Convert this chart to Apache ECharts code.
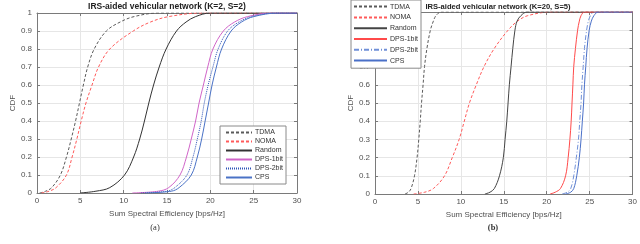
<!DOCTYPE html>
<html><head><meta charset="utf-8">
<script src="https://cdn.jsdelivr.net/npm/echarts@6/dist/echarts.min.js"></script>
<style>html,body{margin:0;padding:0;background:#fff}#c{width:640px;height:244px}</style>
</head><body><div id="c"></div>
<script>
// ---- data ----
const cdfLevels = [0, 0.01, 0.03, 0.1, 0.2, 0.3, 0.4, 0.5, 0.6, 0.7, 0.8, 0.9, 0.95, 0.98, 1];
const seriesNames = ['TDMA', 'NOMA', 'Random', 'DPS-1bit', 'DPS-2bit', 'CPS'];
const xTicks = [0, 5, 10, 15, 20, 25, 30];
const yTicks = [0, 0.1, 0.2, 0.3, 0.4, 0.5, 0.6, 0.7, 0.8, 0.9, 1];
const titleA = 'IRS-aided vehicular network (K=2, S=2)';
const titleB = 'IRS-aided vehicular network (K=20, S=5)';
const xName = 'Sum Spectral Efficiency [bps/Hz]';
const yName = 'CDF';

// chart (a): x value (bps/Hz) at each CDF level
const aTDMA    = [0.3, 1.0, 1.7, 2.7, 3.4, 3.95, 4.45, 4.9, 5.35, 5.85, 6.6, 8.0, 9.6, 11.2, 14.0];
const aNOMA    = [0.5, 1.4, 2.2, 3.4, 4.05, 4.6, 5.1, 5.65, 6.35, 7.1, 8.4, 11.1, 13.1, 15.2, 19.0];
const aRandom  = [5.0, 6.8, 8.4, 10.1, 11.15, 11.85, 12.4, 12.9, 13.45, 14.1, 14.9, 16.1, 17.2, 18.3, 20.0];
const aDPS1    = [11.0, 14.0, 15.2, 16.5, 17.25, 17.8, 18.3, 18.7, 19.2, 19.7, 20.3, 21.5, 22.8, 24.3, 27.0];
const aDPS2    = [12.0, 15.0, 15.9, 17.3, 18.0, 18.5, 18.95, 19.3, 19.75, 20.3, 20.9, 22.0, 23.3, 24.8, 27.5];
const aCPS     = [12.5, 15.5, 16.4, 17.8, 18.5, 19.0, 19.4, 19.8, 20.2, 20.7, 21.3, 22.4, 23.6, 25.0, 27.8];

// chart (b)
const bTDMA    = [3.5, 3.9, 4.2, 4.6, 4.9, 5.1, 5.27, 5.42, 5.6, 5.77, 6.05, 6.45, 6.8, 7.1, 7.7];
const bNOMA    = [4.5, 5.8, 6.8, 8.1, 9.0, 9.8, 10.4, 11.0, 11.8, 12.7, 13.9, 15.5, 16.6, 17.8, 20.5];
const bRandom  = [12.8, 13.4, 13.9, 14.5, 14.95, 15.15, 15.35, 15.5, 15.65, 15.85, 16.05, 16.3, 16.55, 17.0, 17.7];
const bDPS1    = [20.4, 21.0, 21.6, 22.2, 22.5, 22.7, 22.85, 22.95, 23.05, 23.15, 23.35, 23.6, 23.8, 24.0, 24.4];
const bDPS2    = [21.8, 22.4, 22.8, 23.15, 23.45, 23.7, 23.85, 24.0, 24.1, 24.25, 24.4, 24.65, 24.85, 25.1, 25.5];
const bCPS     = [22.2, 22.8, 23.15, 23.5, 23.8, 24.0, 24.15, 24.3, 24.4, 24.55, 24.7, 24.95, 25.2, 25.5, 26.0];

// ---- styles ----
const FONT = 'Liberation Sans, Arial, Helvetica, sans-serif';
const frame = '#7a7a7a';
const txt = '#505050';
const stylesA = [
  {color: '#5a5a5a', type: [3, 2]},
  {color: '#ff5a5a', type: [3, 2]},
  {color: '#333333', type: 'solid'},
  {color: '#d065c8', type: 'solid'},
  {color: '#2f55b8', type: [1, 1]},
  {color: '#4a72c6', type: 'solid'}
];
const stylesB = [
  {color: '#5a5a5a', type: [3, 2]},
  {color: '#ff5a5a', type: [3, 2]},
  {color: '#444444', type: 'solid'},
  {color: '#ff4a4a', type: 'solid'},
  {color: '#7090d8', type: [5, 2, 1, 2]},
  {color: '#4a70c8', type: 'solid'}
];

function pairs(xs) {
  const d = xs.map((x, i) => [x, cdfLevels[i]]);
  d.push([xTicks[xTicks.length - 1], 1]);
  return d;
}

const grids = [
  {left: 37, right: 343, top: 13, bottom: 51},
  {left: 375, right: 5, top: 12, bottom: 50}
];
const xAxes = [], yAxes = [];
const xMin = xTicks[0], xMax = xTicks[xTicks.length - 1], xInt = xTicks[1] - xTicks[0];
const yMin = yTicks[0], yMax = yTicks[yTicks.length - 1], yInt = 0.1;
grids.forEach((g, gi) => {
  xAxes.push({
    gridIndex: gi, type: 'value', position: 'bottom', min: xMin, max: xMax, interval: xInt,
    axisLine: {show: true, onZero: false, lineStyle: {color: frame, width: 1}},
    axisTick: {show: true, inside: true, length: 3, lineStyle: {color: frame}},
    axisLabel: {fontSize: 8, color: txt, margin: 4, fontFamily: FONT},
    splitLine: {show: true, lineStyle: {color: '#e6e6e6', width: 1}},
    name: xName, nameLocation: 'middle', nameGap: 15,
    nameTextStyle: {fontSize: 8, color: txt, fontFamily: FONT}
  });
  xAxes.push({
    gridIndex: gi, type: 'value', position: 'top', min: xMin, max: xMax, interval: xInt,
    axisLine: {show: true, onZero: false, lineStyle: {color: frame, width: 1}},
    axisTick: {show: true, inside: true, length: 3, lineStyle: {color: frame}},
    axisLabel: {show: false}, splitLine: {show: false}
  });
  yAxes.push({
    gridIndex: gi, type: 'value', position: 'left', min: yMin, max: yMax, interval: yInt,
    axisLine: {show: true, onZero: false, lineStyle: {color: frame, width: 1}},
    axisTick: {show: true, inside: true, length: 3, lineStyle: {color: frame}},
    axisLabel: {fontSize: 8, color: txt, margin: 5, fontFamily: FONT,
      formatter: v => String(+v.toFixed(1))},
    splitLine: {show: true, lineStyle: {color: '#e6e6e6', width: 1}},
    name: yName, nameLocation: 'middle', nameGap: 18, nameRotate: 90,
    nameTextStyle: {fontSize: 8, color: txt, fontFamily: FONT}
  });
  yAxes.push({
    gridIndex: gi, type: 'value', position: 'right', min: yMin, max: yMax, interval: yInt,
    axisLine: {show: true, onZero: false, lineStyle: {color: frame, width: 1}},
    axisTick: {show: true, inside: true, length: 3, lineStyle: {color: frame}},
    axisLabel: {show: false}, splitLine: {show: false}
  });
});

const dataA = [aTDMA, aNOMA, aRandom, aDPS1, aDPS2, aCPS];
const dataB = [bTDMA, bNOMA, bRandom, bDPS1, bDPS2, bCPS];
const series = [];
function addSeries(prefix, arrs, styles, gi) {
  arrs.forEach((xs, i) => {
    series.push({
      name: prefix + seriesNames[i], type: 'line', xAxisIndex: gi * 2, yAxisIndex: gi * 2,
      data: pairs(xs), showSymbol: false, symbol: 'none',
      smooth: 0.35,
      lineStyle: {color: styles[i].color, width: 1, type: styles[i].type},
      itemStyle: {color: styles[i].color},
      z: 3 + i, animation: false
    });
  });
}
addSeries('a:', dataA, stylesA, 0);
addSeries('b:', dataB, stylesB, 1);

const legendCommon = {
  orient: 'vertical', backgroundColor: '#ffffff', borderColor: '#8a8a8a', borderWidth: 1,
  borderRadius: 0, selectedMode: false, formatter: n => n.slice(2),
  itemStyle: {opacity: 0, color: 'rgba(0,0,0,0)', borderWidth: 0}, z: 10
};

const chart = echarts.init(document.getElementById('c'), null, {renderer: 'canvas'});
chart.setOption({
  animation: false,
  backgroundColor: '#ffffff',
  grid: grids,
  xAxis: xAxes,
  yAxis: yAxes,
  legend: [
    Object.assign({}, legendCommon, {
      data: seriesNames.map(n => 'a:' + n),
      left: 220, top: 126, itemWidth: 26, itemHeight: 8, itemGap: 2,
      padding: [3, 3, 3, 5],
      textStyle: {fontSize: 7, color: '#333', fontFamily: FONT, padding: [0, 0, 0, -2]}
    }),
    Object.assign({}, legendCommon, {
      data: seriesNames.map(n => 'b:' + n),
      left: 351, top: 0, itemWidth: 33, itemHeight: 9, itemGap: 3.6,
      padding: [3, 3, 4, 2],
      textStyle: {fontSize: 7, color: '#333', fontFamily: FONT, padding: [0, 0, 0, -2]}
    })
  ],
  graphic: [
    {type: 'text', x: 167, y: 7, z: 20, style: {text: titleA, align: 'center', verticalAlign: 'middle', font: 'bold 8.5px ' + FONT, fill: '#222'}},
    {type: 'text', x: 498, y: 6.5, z: 20, style: {text: titleB, align: 'center', verticalAlign: 'middle', font: 'bold 7.6px ' + FONT, fill: '#222'}},
    {type: 'text', x: 155, y: 228, style: {text: '(a)', align: 'center', verticalAlign: 'middle', font: '8.5px Liberation Serif, serif', fill: '#333'}},
    {type: 'text', x: 493, y: 228, style: {text: '(b)', align: 'center', verticalAlign: 'middle', font: 'bold 8.5px Liberation Serif, serif', fill: '#333'}}
  ],
  series: series
});
</script>
</body></html>
